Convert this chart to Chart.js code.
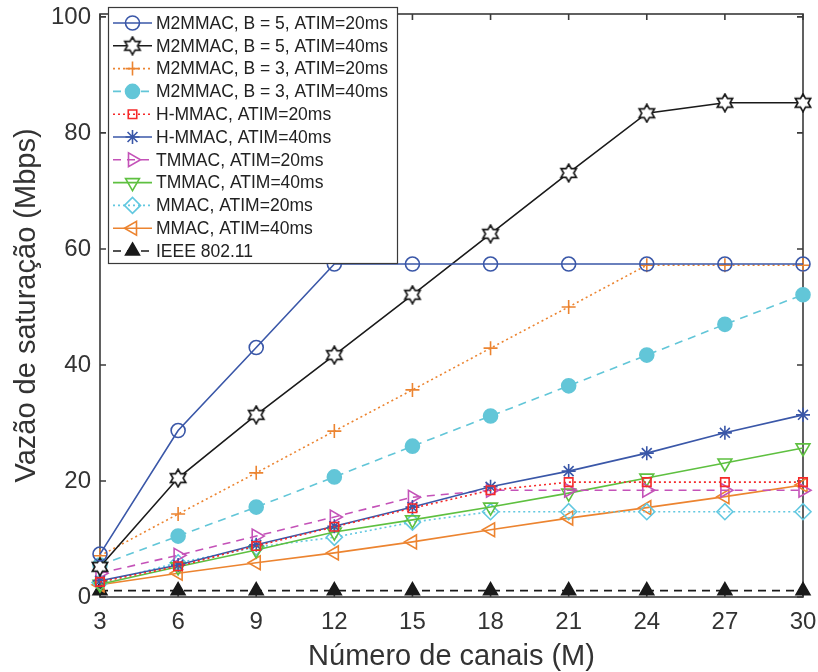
<!DOCTYPE html>
<html lang="pt">
<head>
<meta charset="UTF-8">
<title>Vazão de saturação</title>
<script src="https://cdn.jsdelivr.net/npm/chart.js@4.4.1/dist/chart.umd.min.js"></script>
<style>
  body { margin: 0; background: #fff; }
  #wrap { width: 818px; height: 672px; }
</style>
</head>
<body>
<div id="wrap"><canvas id="chart" width="818" height="672"></canvas></div>
<script>
// number of channels (x axis)
const channels = [3, 6, 9, 12, 15, 18, 21, 24, 27, 30];
const yTicks = [0, 20, 40, 60, 80, 100];

// saturation throughput (Mbps)
const m2b5a20 = [7.4, 28.7, 43.0, 57.4, 57.4, 57.4, 57.4, 57.4, 57.4, 57.4];
const m2b5a40 = [5.2, 20.5, 31.4, 41.7, 52.1, 62.6, 73.1, 83.4, 85.2, 85.2];
const m2b3a20 = [7.1, 14.3, 21.4, 28.6, 35.7, 42.9, 50.0, 57.2, 57.2, 57.2];
const m2b3a40 = [5.5, 10.5, 15.5, 20.7, 26.0, 31.2, 36.4, 41.7, 47.0, 52.1];
const hmmac20 = [2.6, 5.3, 8.8, 12.1, 15.3, 18.4, 19.8, 19.8, 19.8, 19.8];
const hmmac40 = [2.8, 5.5, 9.0, 12.2, 15.5, 19.0, 21.7, 24.8, 28.3, 31.4];
const tmmac20 = [4.1, 7.2, 10.5, 13.8, 17.2, 18.4, 18.4, 18.4, 18.4, 18.4];
const tmmac40 = [2.2, 5.2, 8.1, 11.2, 13.3, 15.5, 17.9, 20.5, 23.1, 25.7];
const mmac20  = [2.5, 5.9, 8.6, 10.3, 12.9, 14.7, 14.7, 14.7, 14.7, 14.7];
const mmac40  = [2.1, 4.1, 5.9, 7.6, 9.5, 11.6, 13.6, 15.4, 17.3, 19.3];
const ieee    = [1.1, 1.1, 1.1, 1.1, 1.1, 1.1, 1.1, 1.1, 1.1, 1.1];

const labels = [
  'M2MMAC, B = 5, ATIM=20ms',
  'M2MMAC, B = 5, ATIM=40ms',
  'M2MMAC, B = 3, ATIM=20ms',
  'M2MMAC, B = 3, ATIM=40ms',
  'H-MMAC, ATIM=20ms',
  'H-MMAC, ATIM=40ms',
  'TMMAC, ATIM=20ms',
  'TMMAC, ATIM=40ms',
  'MMAC, ATIM=20ms',
  'MMAC, ATIM=40ms',
  'IEEE 802.11'
];

// six pointed star marker (hexagram), outline only
function makeHexagram(size, color) {
  const c = document.createElement('canvas');
  c.width = size; c.height = size;
  const g = c.getContext('2d');
  const cx = size / 2, cy = size / 2;
  const R = size / 2 - 1.2, r = R / Math.sqrt(3);
  g.beginPath();
  for (let i = 0; i < 12; i++) {
    const a = -Math.PI / 2 + i * Math.PI / 6;
    const rr = i % 2 === 0 ? R : r;
    const px = cx + rr * Math.cos(a), py = cy + rr * Math.sin(a);
    if (i === 0) g.moveTo(px, py); else g.lineTo(px, py);
  }
  g.closePath();
  g.fillStyle = '#fff';
  g.fill();
  g.lineWidth = 1.7;
  g.strokeStyle = color;
  g.stroke();
  return c;
}
const hexImg = makeHexagram(20, '#1a1a1a');

const none = 'rgba(0,0,0,0)';
const dotted = [2, 3];
const dashed = [8, 6];
const FONT = '"Liberation Sans", Arial, sans-serif';

function series(label, values, color, style, opts) {
  return Object.assign({
    label: label,
    data: channels.map((c, i) => ({ x: c, y: values[i] })),
    borderColor: color,
    backgroundColor: none,
    pointBorderColor: color,
    pointBackgroundColor: none,
    borderWidth: 1.6,
    pointBorderWidth: 1.6,
    pointStyle: style,
    pointRadius: 7,
    pointRotation: 0,
    borderDash: [],
    tension: 0,
    clip: false
  }, opts || {});
}

const datasets = [
  series(labels[0], m2b5a20, '#3a57a8', 'circle'),
  series(labels[1], m2b5a40, '#1a1a1a', hexImg),
  series(labels[2], m2b3a20, '#ec8430', 'cross', { borderDash: dotted }),
  series(labels[3], m2b3a40, '#62c6d8', 'circle', { borderDash: dashed, pointBackgroundColor: '#62c6d8' }),
  series(labels[4], hmmac20, '#f52a2a', 'rect', { borderDash: dotted, pointRadius: 6 }),
  series(labels[5], hmmac40, '#3a57a8', 'star'),
  series(labels[6], tmmac20, '#c452b8', 'triangle', { borderDash: dashed, pointRotation: 90, pointRadius: 8 }),
  series(labels[7], tmmac40, '#5ec040', 'triangle', { pointRotation: 180, pointRadius: 8 }),
  series(labels[8], mmac20, '#62c8e0', 'rectRot', { borderDash: dotted, pointRadius: 8 }),
  series(labels[9], mmac40, '#ec8430', 'triangle', { pointRotation: -90, pointRadius: 8 }),
  series(labels[10], ieee, '#1a1a1a', 'triangle', { borderDash: dashed, pointBackgroundColor: '#1a1a1a', pointRadius: 8 })
];

// box around the plot with inward ticks on all four sides
const framePlugin = {
  id: 'frame',
  beforeDatasetsDraw(chart) {
    const { ctx, chartArea: a, scales } = chart;
    ctx.save();
    ctx.strokeStyle = '#3a3a3a';
    ctx.lineWidth = 1.6;
    ctx.setLineDash([]);
    ctx.strokeRect(a.left, a.top, a.right - a.left, a.bottom - a.top);
    const len = 6;
    ctx.beginPath();
    channels.forEach(v => {
      const px = scales.x.getPixelForValue(v);
      ctx.moveTo(px, a.bottom); ctx.lineTo(px, a.bottom - len);
      ctx.moveTo(px, a.top); ctx.lineTo(px, a.top + len);
    });
    yTicks.forEach(v => {
      const py = scales.y.getPixelForValue(v);
      ctx.moveTo(a.left, py); ctx.lineTo(a.left + len, py);
      ctx.moveTo(a.right, py); ctx.lineTo(a.right - len, py);
    });
    ctx.stroke();
    ctx.restore();
  }
};

// legend box in the upper left corner, line sample + marker + text
const legendPlugin = {
  id: 'boxLegend',
  afterDraw(chart) {
    const { ctx } = chart;
    const bx = 108.5, by = 7.5, bw = 289, bh = 256;
    const rowH = 22.8, firstRow = 23;
    ctx.save();
    ctx.fillStyle = '#fff';
    ctx.fillRect(bx, by, bw, bh);
    ctx.strokeStyle = '#3a3a3a';
    ctx.lineWidth = 1.2;
    ctx.setLineDash([]);
    ctx.strokeRect(bx, by, bw, bh);
    chart.data.datasets.forEach((ds, i) => {
      const y = firstRow + i * rowH;
      ctx.strokeStyle = ds.borderColor;
      ctx.lineWidth = ds.borderWidth;
      ctx.setLineDash(ds.borderDash);
      ctx.beginPath();
      ctx.moveTo(113, y); ctx.lineTo(152, y);
      ctx.stroke();
      ctx.setLineDash([]);
      ctx.fillStyle = ds.pointBackgroundColor;
      ctx.strokeStyle = ds.pointBorderColor;
      ctx.lineWidth = ds.pointBorderWidth;
      Chart.helpers.drawPoint(ctx, {
        pointStyle: ds.pointStyle,
        rotation: ds.pointRotation,
        radius: ds.pointRadius,
        borderWidth: ds.pointBorderWidth
      }, 132.5, y);
      ctx.fillStyle = '#222';
      ctx.font = '17.5px ' + FONT;
      ctx.textBaseline = 'middle';
      ctx.textAlign = 'left';
      ctx.fillText(ds.label, 156, y + 1);
    });
    ctx.restore();
  }
};

new Chart(document.getElementById('chart'), {
  type: 'line',
  data: { datasets: datasets },
  options: {
    responsive: false,
    animation: false,
    layout: { padding: { top: 14, right: 15, left: 0, bottom: 0 } },
    plugins: { legend: { display: false }, tooltip: { enabled: false } },
    scales: {
      x: {
        type: 'linear',
        min: 3,
        max: 30,
        afterBuildTicks: s => { s.ticks = channels.map(v => ({ value: v })); },
        afterFit: s => { s.height = 75; s.paddingLeft = 0; s.paddingRight = 0; },
        grid: { display: false, drawTicks: false },
        border: { display: false },
        ticks: {
          padding: 11,
          color: '#333',
          font: { family: FONT, size: 24 }
        },
        title: {
          display: true,
          text: 'Número de canais (M)',
          color: '#333',
          padding: { top: 0, bottom: -2 },
          font: { family: FONT, size: 29 }
        }
      },
      y: {
        min: 0,
        max: 100.5,
        afterBuildTicks: s => { s.ticks = yTicks.map(v => ({ value: v })); },
        afterFit: s => { s.width = 100; s.paddingTop = 0; s.paddingBottom = 0; },
        grid: { display: false, drawTicks: false },
        border: { display: false },
        ticks: {
          padding: 9,
          color: '#333',
          font: { family: FONT, size: 24 }
        },
        title: {
          display: true,
          text: 'Vazão de saturação (Mbps)',
          color: '#333',
          padding: { top: 10, bottom: 0 },
          font: { family: FONT, size: 29 }
        }
      }
    }
  },
  plugins: [framePlugin, legendPlugin]
});
</script>
</body>
</html>
